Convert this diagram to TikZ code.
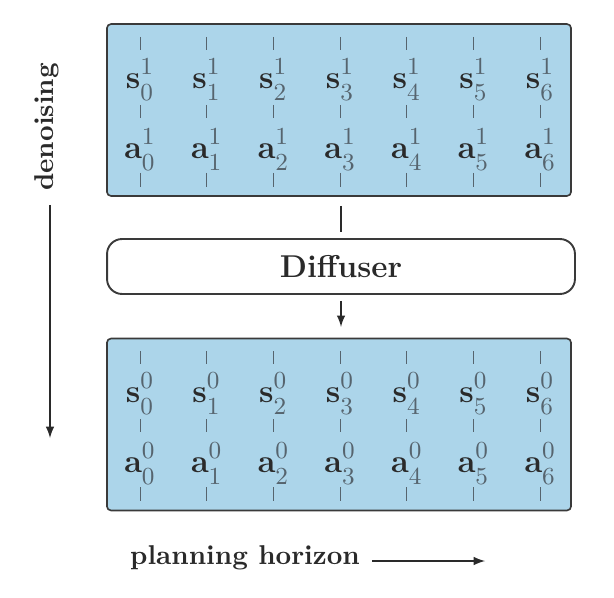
\documentclass[tikz,border=0pt]{standalone}
\usepackage{amsmath,amssymb}
\usepackage{tikz}
\usetikzlibrary{arrows, calc}

\definecolor{planblue}{HTML}{ACD5EA}
\definecolor{framegray}{HTML}{3A3A3A}
\definecolor{tickgray}{HTML}{56646E}
\definecolor{inkgray}{HTML}{2A2A2A}

% one state / action token
\newcommand{\tok}[3]{{\color{tickgray}$\textcolor{inkgray}{\mathbf{#1}}%
  ^{\raisebox{0.8pt}{$\scriptstyle#2$}}_{\raisebox{-1.4pt}{$\scriptstyle#3$}}$}}

\tikzset{
  plan box/.style={draw=framegray, fill=planblue, line width=0.6pt, rounded corners=1.5pt,
    minimum width=170.6pt, minimum height=63.2pt, inner sep=0pt},
  model box/.style={draw=framegray, fill=white, line width=0.7pt, rounded corners=5.5pt,
    minimum width=172pt, minimum height=20.2pt, inner sep=0pt, text=inkgray,
    font=\fontsize{11.6}{13}\selectfont\bfseries},
  token/.style={inner sep=0pt, font=\fontsize{12.5}{14}\selectfont},
  tick/.style={draw=tickgray, line width=0.35pt},
  label/.style={inner sep=0pt, text=inkgray, font=\bfseries}
}

\begin{document}
\begin{tikzpicture}[x=0.3676pt, y=-0.3676pt]
        \useasboundingbox (0,0) rectangle (614,598);

        \node[plan box] (noisy) at (339,110) {};
        \node[plan box] (clean) at (339,424.5) {};
        \node[model box] (diffuser) at (341,266.5) {Diffuser};

        \foreach \i in {0,...,6}{
            \pgfmathsetmacro{\x}{140+66.7*\i}
            % noisy plan
            \node[token] (s1-\i) at (\x,80) {\tok{s}{1}{\i}};
            \node[token] (a1-\i) at (\x,150) {\tok{a}{1}{\i}};
            \draw[tick] (\x,37) -- (\x,50);
            \draw[tick] (\x,105) -- (\x,118);
            \draw[tick] (\x,173) -- (\x,187);
            % denoised plan
            \node[token] (s0-\i) at (\x,394) {\tok{s}{0}{\i}};
            \node[token] (a0-\i) at (\x,464) {\tok{a}{0}{\i}};
            \draw[tick] (\x,351) -- (\x,364);
            \draw[tick] (\x,419) -- (\x,432);
            \draw[tick] (\x,487) -- (\x,501);
        }

        \draw[line width=0.45pt, draw=inkgray, shorten <=3.3pt, shorten >=2.2pt]
            (noisy.south -| diffuser.north) -- (diffuser.north);
        \draw[-latex, line width=0.45pt, draw=inkgray, shorten <=2.2pt, shorten >=4pt]
            (diffuser.south) -- (diffuser.south |- clean.north);

        \node[label, rotate=90] (denoise) at (47,127) {denoising};
        \coordinate (denoise-end) at (50,438);
        \draw[-latex, line width=0.45pt, draw=inkgray] (denoise-end |- 0,205) -- (denoise-end);

        \node[label] (horizon) at (245,558) {planning horizon};
        \coordinate (horizon-end) at (485,561);
        \draw[-latex, line width=0.45pt, draw=inkgray] (372,561) -- (horizon-end);
    \end{tikzpicture}
\end{document}
